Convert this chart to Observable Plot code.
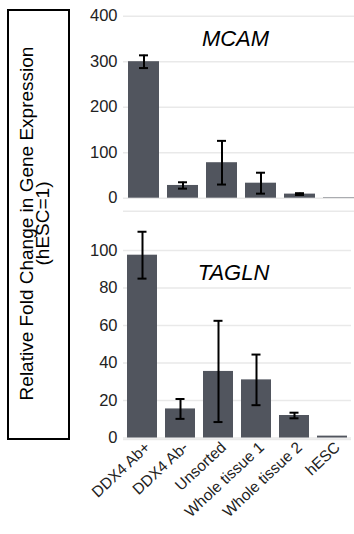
<!DOCTYPE html>
<html>
<head>
<meta charset="utf-8">
<script src="https://cdn.jsdelivr.net/npm/d3@7"></script>
<script src="https://cdn.jsdelivr.net/npm/@observablehq/plot@0.6"></script>
<style>
  html, body { margin: 0; padding: 0; background: #fff; }
  #wrap { position: relative; width: 354px; height: 534px; overflow: hidden; font-family: "Liberation Sans", Arial, sans-serif; }
  #box { position: absolute; left: 7px; top: 9px; width: 63px; height: 431px; border: 2px solid #000; box-sizing: border-box; }
  #ylab { position: absolute; left: 0; top: 0; }
  #top { position: absolute; left: 0; top: 0; }
  #bottom { position: absolute; left: 0; top: 220px; }
</style>
</head>
<body>
<div id="wrap">
  <div id="box"></div>
  <svg id="ylab" width="80" height="450">
    <text transform="translate(33,223.5) rotate(-90)" text-anchor="middle" font-family="Liberation Sans, Arial, sans-serif" font-size="19" fill="#000">Relative Fold Change in Gene Expression</text>
    <text transform="translate(49,223.5) rotate(-90)" text-anchor="middle" font-family="Liberation Sans, Arial, sans-serif" font-size="19" fill="#000">(hESC=1)</text>
  </svg>
  <div id="top"></div>
  <div id="bottom"></div>
</div>
<script>
const categories = ["DDX4 Ab+", "DDX4 Ab-", "Unsorted", "Whole tissue 1", "Whole tissue 2", "hESC"];
const mcamValues = [300, 28, 78, 33, 9, 1];
const mcamErrors = [14, 7, 48, 23, 2, 0];
const taglnValues = [97.5, 15.5, 35.5, 31, 12, 1];
const taglnErrors = [12.5, 5.3, 27, 13.5, 1.5, 0];
const mcamTicks = [0, 100, 200, 300, 400];
const taglnTicks = [0, 20, 40, 60, 80, 100];
const titles = ["MCAM", "TAGLN"];

const mcam = categories.map((c, i) => ({category: c, value: mcamValues[i], err: mcamErrors[i]}));
const tagln = categories.map((c, i) => ({category: c, value: taglnValues[i], err: taglnErrors[i]}));

const font = "Liberation Sans, Arial, sans-serif";
const barColor = "#51555e";
const gridColor = "#e9e9e9";

function errMarks(data, inset) {
  return [
    Plot.ruleX(data.filter(d => d.err > 0), {x: "category", y1: d => d.value - d.err, y2: d => d.value + d.err, stroke: "#000", strokeWidth: 2}),
    Plot.tickY(data.filter(d => d.err > 0), {x: "category", y: d => d.value + d.err, insetLeft: inset, insetRight: inset, stroke: "#000", strokeWidth: 2}),
    Plot.tickY(data.filter(d => d.err > 0), {x: "category", y: d => d.value - d.err, insetLeft: inset, insetRight: inset, stroke: "#000", strokeWidth: 2})
  ];
}

const topPlot = Plot.plot({
  width: 354,
  height: 220,
  marginLeft: 123,
  marginRight: 0,
  marginTop: 0,
  marginBottom: 0,
  style: {fontFamily: font, fontSize: "16.5px", color: "#222", background: "transparent"},
  x: {domain: categories, range: [118.2, 363.7], padding: 0.2, axis: null},
  y: {domain: [0, 400], range: [197.7, 15.7], ticks: mcamTicks, tickSize: 0, tickPadding: 6, label: null},
  marks: [
    Plot.ruleY(mcamTicks, {stroke: gridColor, strokeWidth: 1.5}),
    Plot.ruleY([0], {dy: 13, stroke: gridColor, strokeWidth: 1.5}),
    Plot.barY(mcam, {x: "category", y: "value", fill: barColor}),
    ...errMarks(mcam, 11),
    Plot.text([titles[0]], {frameAnchor: "top-left", dx: 112, dy: 30, text: d => d, textAnchor: "middle", fontSize: 22, fontStyle: "italic", fill: "#000"})
  ]
});
document.getElementById("top").appendChild(topPlot);

const bottomPlot = Plot.plot({
  width: 354,
  height: 314,
  marginLeft: 123,
  marginRight: 3,
  marginTop: 0,
  marginBottom: 0,
  style: {fontFamily: font, fontSize: "16.5px", color: "#222", background: "transparent", overflow: "visible"},
  x: {domain: categories, range: [118.8, 355.8], padding: 0.22, axis: null},
  y: {domain: [0, 100], range: [217.5, 30], ticks: taglnTicks, tickSize: 0, tickPadding: 6, label: null},
  marks: [
    Plot.ruleY(taglnTicks, {stroke: gridColor, strokeWidth: 1.5}),
    Plot.ruleY([0], {dy: 1.5, stroke: gridColor, strokeWidth: 1.5}),
    Plot.barY(tagln, {x: "category", y: "value", fill: barColor}),
    ...errMarks(tagln, 10.5),
    Plot.text([titles[1]], {frameAnchor: "top-left", dx: 110, dy: 44, text: d => d, textAnchor: "middle", fontSize: 22, fontStyle: "italic", fill: "#000"}),
    Plot.text(categories, {x: d => d, frameAnchor: "top", dy: 220, dx: 1, text: d => d, rotate: -43, textAnchor: "end", fontSize: 15.5, fill: "#222"})
  ]
});
document.getElementById("bottom").appendChild(bottomPlot);
</script>
</body>
</html>
